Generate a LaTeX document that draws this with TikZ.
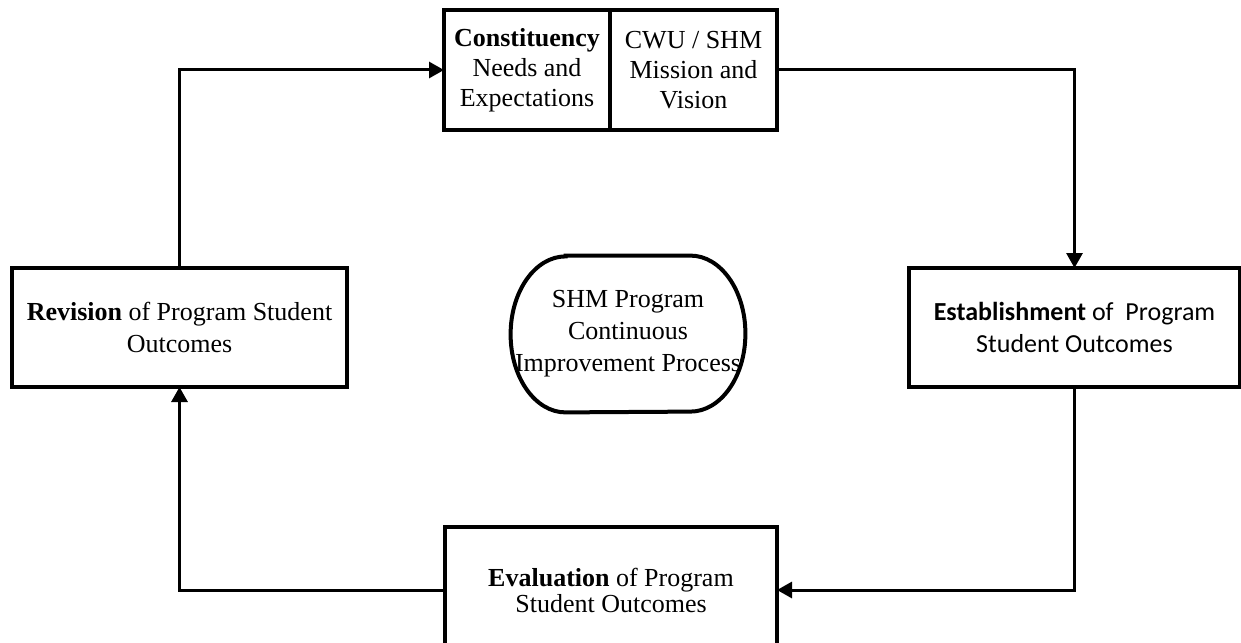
\documentclass[tikz,border=0pt]{standalone}
\usepackage{fontspec}
\setmainfont{Liberation Serif}
\newfontfamily\calibri{Carlito}
\usetikzlibrary{arrows.meta, positioning}
\tikzstyle{stage} = [rectangle, 
			draw, 
			line width = 2pt,
			outer sep = 0pt,
			align = center,
			font = \fontsize{13}{16}\selectfont]
\tikzstyle{flow} = [line width = 1.5pt,
			-{Triangle[length=7.5pt, width=8pt]}]

\begin{document}
\begin{tikzpicture}[x=0.5pt, y=-0.5pt]
	\useasboundingbox (0,0) rectangle (1241,642);
	\node [stage, minimum width=83pt, minimum height=60pt, font=\fontsize{13}{15}\selectfont] (constituency) at (527,70) {\textbf{Constituency}\\Needs and\\Expectations};
	\node [stage, right=0pt of constituency, minimum width=83.5pt, minimum height=60pt, font=\fontsize{13}{15}\selectfont] (mission) {CWU / SHM\\Mission and\\Vision};
	\node [stage, minimum width=167.5pt, minimum height=59.5pt] (revision) at (179.5,327.5) {\textbf{Revision} of Program Student\\Outcomes};
	\node [stage, minimum width=165.5pt, minimum height=59.5pt, font=\calibri\fontsize{13}{16}\selectfont] (establishment) at (1074.5,327.5) {\textbf{Establishment} of\ \ Program\\Student Outcomes};
	\node [stage, minimum width=166pt, minimum height=63pt, font=\fontsize{13}{13}\selectfont] (evaluation) at (611,590) {\textbf{Evaluation} of Program\\Student Outcomes};
	\node [minimum width=117pt, minimum height=78pt, inner sep=0pt, align=center, font=\fontsize{13}{16}\selectfont] (process) at (628,334) {SHM Program\\Continuous\\Improvement Process};
	\draw [line width=2pt] ([xshift=27.5pt]process.north west) -- ([xshift=-27.5pt]process.north east) arc [start angle=90, end angle=-90, x radius=27.5pt, y radius=39pt] -- ([xshift=27.5pt]process.south west) arc [start angle=270, end angle=90, x radius=27.5pt, y radius=39pt] -- cycle;
	% cycle of the process
	\draw [flow] (revision.north) |- (constituency.west);
	\draw [flow] (mission.east) -| (establishment.north);
	\draw [flow] (establishment.south) |- (evaluation.east);
	\draw [flow] (evaluation.west) -| (revision.south);
\end{tikzpicture}
\end{document}
